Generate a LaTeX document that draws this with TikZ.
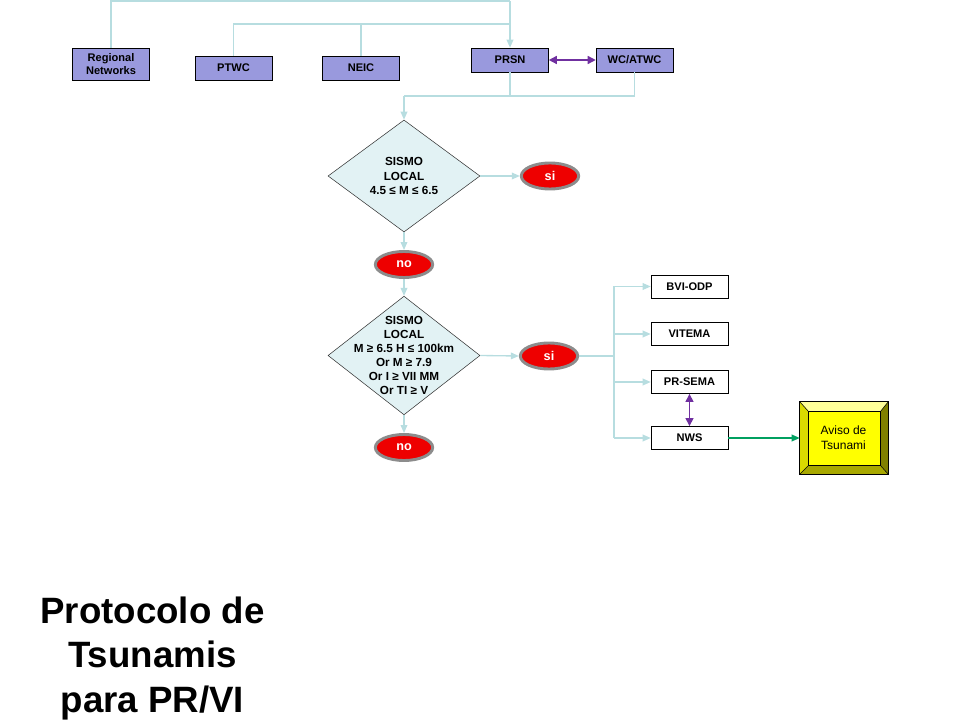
\documentclass[tikz,border=0pt]{standalone}
\usepackage{fontspec}
\setmainfont{Liberation Sans}
\usetikzlibrary{shapes.geometric,arrows.meta}
\definecolor{boxblue}{HTML}{9999DD}
\definecolor{linecol}{HTML}{B7DDE0}
\definecolor{dfill}{HTML}{E2F2F4}
\definecolor{redfill}{HTML}{EE0000}
\definecolor{ringgray}{HTML}{8C8C8C}
\definecolor{purp}{HTML}{7030A0}
\definecolor{grn}{HTML}{00A060}
\definecolor{ylw}{HTML}{FFFF00}
\definecolor{ylwlight}{HTML}{FFFF99}
\definecolor{ylwmid}{HTML}{DADA00}
\definecolor{ylwdark}{HTML}{808000}
\definecolor{ylwbot}{HTML}{A8A800}
\begin{document}
\begin{tikzpicture}[x=0.75pt,y=-0.75pt,
  lbox/.style={draw=black, fill=boxblue, minimum width=57.75pt, minimum height=18pt, inner sep=0pt, font=\fontsize{8.3}{9.3}\selectfont\bfseries, align=center},
  wbox/.style={draw=black, fill=white, minimum width=57.75pt, minimum height=17.5pt, inner sep=0pt, font=\fontsize{8.3}{9.3}\selectfont\bfseries},
  dia/.style={diamond, draw=black!80, fill=dfill, inner sep=0pt},
  dtext/.style={font=\fontsize{8.8}{10.6}\selectfont\bfseries, align=center, inner sep=0pt},
  oval/.style={ellipse, draw=ringgray, line width=2.2pt, fill=redfill, minimum width=43pt, minimum height=19.5pt, inner sep=0pt, text=white, font=\fontsize{9.5}{10}\selectfont\bfseries},
  conn/.style={draw=linecol, line width=1pt},
  carr/.style={conn, -{Triangle[length=6pt,width=5pt]}},
  parr/.style={draw=purp, line width=1pt, {Triangle[length=6pt,width=6pt]}-{Triangle[length=6pt,width=6pt]}},
  garr/.style={draw=grn, line width=1pt, -{Triangle[length=6pt,width=5pt]}},
  ttl/.style={font=\fontsize{27.5}{33}\selectfont\bfseries, inner sep=0pt, anchor=base}
]
\useasboundingbox (0,0) rectangle (960,720);

% top row
\node[lbox, minimum height=24pt] (RN) at (111,64) {Regional\\Networks};
\node[lbox] (PTWC) at (233.5,68) {PTWC};
\node[lbox] (NEIC) at (361,68) {NEIC};
\node[lbox] (PRSN) at (510,60) {PRSN};
\node[lbox] (WC) at (634.5,60) {WC/ATWC};

% diamonds and ovals
\node[dia, minimum width=114pt, minimum height=84pt] (D1) at (404,176) {};
\node[dtext] (D1t) at (D1.center) {SISMO\\LOCAL\\4.5 ≤ M ≤ 6.5};
\node[oval] (SI1) at (550,176) {si};
\node[oval] (NO1) at (404,264.5) {no};
\node[dia, minimum width=114pt, minimum height=89pt] (D2) at (404,355.5) {};
\node[dtext] (D2t) at (404,355.5) {SISMO\\LOCAL\\M ≥ 6.5 H ≤ 100km\\Or M ≥ 7.9\\Or I ≥ VII MM\\Or TI ≥ V};
\node[oval] (SI2) at (549,356) {si};
\node[oval] (NO2) at (404,447.5) {no};

% agency boxes
\node[wbox] (BVI) at (689.5,286.5) {BVI-ODP};
\node[wbox] (VIT) at (689.5,334) {VITEMA};
\node[wbox] (PRS) at (689.5,382) {PR-SEMA};
\node[wbox] (NWS) at (689.5,438) {NWS};

% Aviso box with bevel
\node[minimum width=66pt, minimum height=54pt, inner sep=0pt] (AV) at (844,438) {};
\coordinate (i1) at ([shift={(9,10)}]AV.north west);
\coordinate (i2) at ([shift={(-8,10)}]AV.north east);
\coordinate (i3) at ([shift={(-8,-9)}]AV.south east);
\coordinate (i4) at ([shift={(9,-9)}]AV.south west);
\fill[ylwlight] (AV.north west) -- (AV.north east) -- (i2) -- (i1) -- cycle;
\fill[ylwdark] (AV.north east) -- (AV.south east) -- (i3) -- (i2) -- cycle;
\fill[ylwbot] (AV.south east) -- (AV.south west) -- (i4) -- (i3) -- cycle;
\fill[ylwmid] (AV.south west) -- (AV.north west) -- (i1) -- (i4) -- cycle;
\fill[ylw] (i1) rectangle (i3);
\draw[black, line width=0.6pt] (AV.north west) rectangle (AV.south east);
\draw[black, line width=0.6pt] (i1) rectangle (i3);
\draw[black, line width=0.4pt] (AV.north west) -- (i1) (AV.north east) -- (i2) (AV.south east) -- (i3) (AV.south west) -- (i4);
\node[font=\fontsize{9}{11}\selectfont, align=center, inner sep=0pt] (AVt) at (843.5,438) {Aviso de\\Tsunami};

% connectors at top
\coordinate (top) at (510,1);
\coordinate (mid) at (510,24);
\coordinate (jn) at (404,96);
\draw[conn] (RN.north) |- (top);
\draw[carr] (top) -- (PRSN.north);
\draw[conn] (PTWC.north) |- (mid);
\draw[conn] (NEIC.north) -- (NEIC.north |- mid);
\draw[conn] (PRSN.south) -- (PRSN.south |- jn);
\draw[conn] (WC.south) |- (jn);
\draw[carr] (jn) -- (D1.north);
\draw[parr] (PRSN.east) -- (WC.west);

% flow
\draw[carr] (D1.east) -- (SI1.west);
\draw[carr] (D1.south) -- (NO1.north);
\draw[carr] (NO1.south) -- (D2.north);
\draw[carr] (D2.east) -- (SI2.west);
\draw[carr] (D2.south) -- (NO2.north);

% branch
\coordinate (br) at (614,356);
\draw[conn] (SI2.east) -- (br);
\draw[conn] (br |- BVI.west) -- (br |- NWS.west);
\draw[carr] (br |- BVI.west) -- (BVI.west);
\draw[carr] (br |- VIT.west) -- (VIT.west);
\draw[carr] (br |- PRS.west) -- (PRS.west);
\draw[carr] (br |- NWS.west) -- (NWS.west);
\draw[parr] (PRS.south) -- (NWS.north);
\draw[garr] (NWS.east) -- (AV.west);

% title
\node[ttl] (T1) at (152.5,623) {Protocolo de};
\node[ttl] (T2) at (152.5,667) {Tsunamis};
\node[ttl] (T3) at (152.5,712) {para PR/VI};
\end{tikzpicture}
\end{document}
